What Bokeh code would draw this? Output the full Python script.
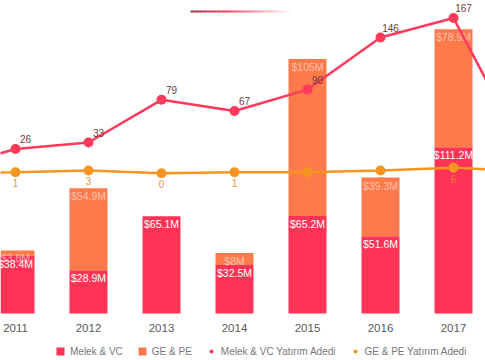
from bokeh.plotting import figure
from bokeh.models import Range1d, Legend, LegendItem, ColumnDataSource
from bokeh.core.properties import value
from bokeh.embed import file_html
from bokeh.resources import INLINE

# ---- data ----
years = [2010, 2011, 2012, 2013, 2014, 2015, 2016, 2017, 2018]
bar_years = [2011, 2012, 2013, 2014, 2015, 2016, 2017]
year_labels = ["2011", "2012", "2013", "2014", "2015", "2016", "2017"]
melek_vc = [38.4, 28.9, 65.1, 32.5, 65.2, 51.6, 111.2]          # $M
ge_pe = [3.8, 54.9, 0.0, 8.0, 105.0, 39.3, 78.9]                 # $M
melek_vc_count = [4, 26, 33, 79, 67, 90, 146, 167, 18]
ge_pe_count = [0, 1, 3, 0, 1, 1, 3, 6, 2]

RED = "#FF3355"
ORANGE = "#FF7A4B"
LINE_RED = "#FF3A5A"
LINE_ORANGE = "#F5951F"
FONT = "Liberation Sans"

# ---- layout geometry (pixels) ----
W, H = 485, 360
BASE_PX = 313            # pixel row of the bar baseline
PX_PER_YEAR = 73.0
X0 = 2011 - 15 / PX_PER_YEAR
X1 = X0 + W / PX_PER_YEAR
PX_PER_M = 1.495
Y_TOP = BASE_PX / PX_PER_M
Y_BOT = (BASE_PX - H) / PX_PER_M
CNT_PX = 0.929
CNT_ZERO_PX = 172.7
CNT_TOP = CNT_ZERO_PX / CNT_PX
CNT_BOT = (CNT_ZERO_PX - H) / CNT_PX

p = figure(frame_width=W, frame_height=H, output_backend="svg", toolbar_location=None,
           x_range=Range1d(X0, X1), y_range=Range1d(Y_BOT, Y_TOP),
           x_axis_location=None, y_axis_location=None,
           min_border=0, min_border_left=0, min_border_right=0, min_border_top=0,
           min_border_bottom=0)
p.extra_y_ranges = {"count": Range1d(CNT_BOT, CNT_TOP)}
p.outline_line_color = None
p.xgrid.visible = False
p.ygrid.visible = False
p.background_fill_color = "white"
p.border_fill_color = "white"

# bars
bw = 38 / PX_PER_YEAR
src = ColumnDataSource(dict(
    x=bar_years, vc=melek_vc, pe=ge_pe,
    top=[a + b for a, b in zip(melek_vc, ge_pe)],
    vc_lab=[f"${v:g}M" for v in melek_vc],
    year=year_labels,
))
r_vc = p.vbar(x="x", bottom=0, top="vc", width=bw, source=src, fill_color=RED, line_color=None)
r_pe = p.vbar(x="x", bottom="vc", top="top", width=bw, source=src, fill_color=ORANGE, line_color=None)

pe_x = [x for x, v in zip(bar_years, ge_pe) if v > 0]
pe_top = [a + b for a, b in zip(melek_vc, ge_pe) if b > 0]
pe_lab = [f"${v:g}M" for v in ge_pe if v > 0]
p.text(x="x", y="vc", text="vc_lab", source=src, text_align="center", text_baseline="middle",
       y_offset=8, text_color="white", text_font=value(FONT), text_font_size="10.5px")
p.text(x=pe_x, y=pe_top, text=pe_lab, text_align="center", text_baseline="middle",
       y_offset=8, text_color="white", text_alpha=0.55, text_font=value(FONT), text_font_size="10.5px")

# category (year) labels under the bars
p.text(x="x", y=0, text="year", source=src, text_align="center", text_baseline="middle",
       y_offset=14, text_color="#5a5a5a", text_font=value(FONT), text_font_size="11.5px")

# lines
p.line(years, ge_pe_count, y_range_name="count", line_color=LINE_ORANGE, line_width=2.5)
r_pe_pts = p.scatter(years, ge_pe_count, y_range_name="count", size=10, fill_color=LINE_ORANGE,
                     line_color=None)
p.line(years, melek_vc_count, y_range_name="count", line_color=LINE_RED, line_width=2.5)
r_vc_pts = p.scatter(years, melek_vc_count, y_range_name="count", size=10, fill_color=LINE_RED,
                     line_color=None)

p.text(years, melek_vc_count, text=[str(v) for v in melek_vc_count], y_range_name="count",
       x_offset=10, y_offset=-10, text_align="center", text_baseline="middle",
       text_color="#6A3A3E", text_font=value(FONT), text_font_size="10px")
p.text(years, ge_pe_count, text=[str(v) for v in ge_pe_count], y_range_name="count",
       y_offset=11, text_align="center", text_baseline="middle",
       text_color="#E4862C", text_alpha=0.9, text_font=value(FONT), text_font_size="10px")

# title underline decoration (gradient red -> white)
def px2x(px):
    return X0 + px / PX_PER_YEAR

def py2y(py):
    return (BASE_PX - py) / PX_PER_M

n = 24
x_start, x_end, y_line = 190, 294, 11
for i in range(n):
    t = i / (n - 1)
    if t < 0.35:
        k = t / 0.35
        c = (int(160 + (255 - 160) * k), int(50 + (60 - 50) * k), int(75 + (85 - 75) * k))
    else:
        k = (t - 0.35) / 0.65
        c = (255, int(60 + 195 * k), int(85 + 170 * k))
    xa = px2x(x_start + (x_end - x_start) * i / n)
    xb = px2x(x_start + (x_end - x_start) * (i + 1) / n)
    p.segment(x0=[xa], y0=[py2y(y_line)], x1=[xb], y1=[py2y(y_line)],
              line_color="#%02x%02x%02x" % c, line_width=2)

# legend
legend = Legend(items=[
    LegendItem(label="Melek & VC", renderers=[r_vc]),
    LegendItem(label="GE & PE", renderers=[r_pe]),
    LegendItem(label="Melek & VC Yatırım Adedi", renderers=[r_vc_pts]),
    LegendItem(label="GE & PE Yatırım Adedi", renderers=[r_pe_pts]),
], orientation="horizontal", location=(55, 3), glyph_width=10, glyph_height=10,
    label_standoff=5, spacing=14, padding=3, margin=0, border_line_color=None,
    background_fill_alpha=0, label_text_font=FONT, label_text_font_size="10px",
    label_text_color="#777777", label_height=12)
p.add_layout(legend, "center")

open("out.html", "w").write(file_html(p, INLINE))
